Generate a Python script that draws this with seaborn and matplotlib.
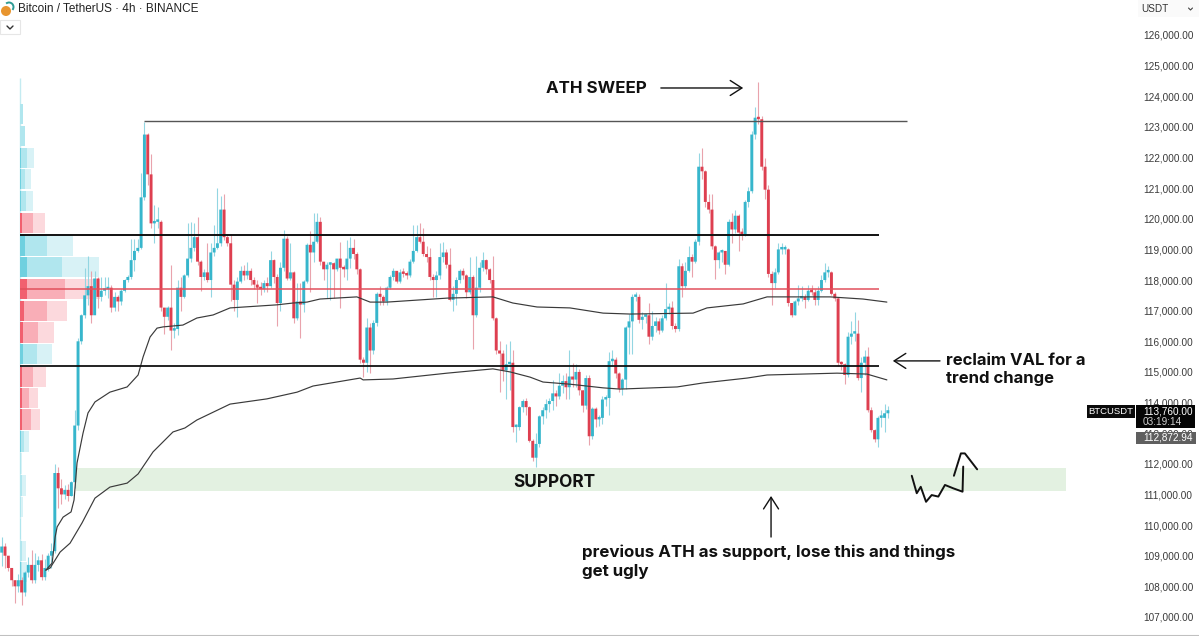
import matplotlib
matplotlib.use("Agg")
import matplotlib.pyplot as plt
from matplotlib.patches import Circle, Rectangle, Arc
from matplotlib.transforms import IdentityTransform
import numpy as np
import pandas as pd
import seaborn as sns

W, H = 1199, 636

# candles, price in thousands of USDT (open is the previous close)
first_open = 109.1
closes = [
    109.3, 109.0, 108.6, 108.2, 108.0, 108.2, 107.8, 108.45, 108.7, 108.2,
    108.7, 108.85, 108.3, 108.6, 109.0, 109.15, 111.7, 111.2, 111.0, 111.15,
    110.95, 111.4, 113.25, 116.0, 116.85, 117.5, 117.8, 116.85, 118.05, 117.45,
    117.65, 117.7, 117.75, 117.1, 117.45, 117.3, 117.65, 118.0, 118.1, 118.65,
    118.95, 119.05, 120.7, 122.75, 121.45, 119.85, 119.9, 119.9, 117.1, 116.8,
    117.1, 116.35, 116.4, 117.75, 117.45, 118.15, 118.7, 119.05, 119.4, 118.6,
    118.1, 118.25, 118.0, 118.9, 119.05, 119.2, 120.3, 119.4, 119.2, 117.85,
    117.35, 117.95, 118.3, 118.15, 118.3, 118.0, 117.85, 117.75, 117.7, 117.9,
    117.8, 118.65, 118.1, 117.25, 118.4, 119.35, 118.05, 118.25, 116.75, 117.3,
    117.2, 117.95, 119.15, 118.9, 119.25, 119.9, 118.6, 118.35, 118.5, 118.55,
    118.35, 118.7, 118.4, 118.35, 118.7, 119.05, 118.85, 118.35, 115.4, 115.3,
    116.45, 115.7, 116.6, 117.55, 117.45, 117.3, 117.75, 118.1, 118.3, 117.95,
    118.25, 118.2, 118.15, 118.6, 118.95, 119.4, 119.25, 118.85, 118.75, 118.1,
    118.0, 118.15, 118.75, 118.9, 118.5, 117.35, 117.55, 118.0, 118.3, 118.15,
    117.6, 118.1, 116.85, 117.75, 118.4, 118.65, 118.35, 118.0, 116.75, 115.7,
    115.6, 115.05, 115.25, 115.3, 113.2, 113.2, 113.85, 114.05, 113.85, 112.75,
    112.2, 112.65, 113.55, 113.75, 113.95, 114.05, 114.3, 114.2, 114.55, 114.7,
    114.5, 114.85, 114.75, 115.0, 114.4, 113.9, 114.8, 112.9, 113.8, 113.45,
    113.5, 114.1, 114.15, 115.35, 115.4, 114.95, 114.45, 114.75, 116.45, 116.65,
    117.45, 117.45, 116.7, 116.8, 116.85, 116.15, 116.5, 116.65, 116.35, 116.75,
    117.05, 117.1, 116.5, 116.4, 118.45, 117.8, 118.3, 118.75, 118.6, 119.25,
    121.7, 121.55, 120.55, 120.3, 119.1, 118.65, 118.9, 118.95, 118.5, 119.9,
    119.65, 120.1, 119.55, 119.5, 120.55, 120.9, 122.75, 123.3, 123.25, 121.7,
    120.95, 118.2, 117.9, 118.25, 119.0, 119.0, 119.0, 117.25, 116.85, 117.3,
    117.4, 117.45, 117.35, 117.65, 117.6, 117.35, 117.65, 118.0, 118.25, 118.25,
    117.55, 117.4, 115.3, 115.25, 114.9, 116.15, 116.25, 116.25, 114.8, 115.3,
    115.5, 113.75, 113.1, 112.8, 113.5, 113.5, 113.65, 113.75,
]
highs = [
    109.6, 109.4, 109.0, 108.6, 108.2, 108.4, 108.3, 108.5, 108.95, 109.2,
    109.1, 109.0, 109.05, 108.9, 109.1, 109.4, 112.0, 111.9, 111.5, 111.3,
    111.35, 111.45, 113.75, 116.1, 116.9, 118.4, 118.8, 118.3, 118.3, 118.1,
    118.1, 118.1, 118.1, 117.85, 117.6, 117.5, 117.7, 118.05, 118.15, 119.35,
    119.35, 119.35, 121.5, 123.15, 122.8, 122.1, 120.45, 120.4, 119.95, 117.0,
    117.15, 118.5, 116.6, 118.0, 118.1, 118.2, 119.85, 119.9, 119.85, 120.05,
    118.65, 118.35, 119.2, 119.2, 119.8, 121.0, 120.75, 120.8, 119.5, 119.5,
    118.0, 118.1, 118.45, 118.5, 118.6, 118.4, 118.1, 118.0, 117.95, 118.0,
    118.1, 118.95, 118.7, 118.2, 118.6, 119.65, 119.45, 119.2, 118.3, 117.9,
    117.9, 118.0, 119.2, 119.6, 120.2, 120.2, 120.05, 118.6, 118.6, 118.6,
    118.6, 118.7, 119.25, 118.5, 119.3, 119.4, 119.35, 118.9, 118.4, 115.5,
    116.75, 116.6, 116.7, 117.6, 117.8, 117.5, 117.8, 118.15, 118.4, 118.3,
    118.35, 118.4, 118.3, 118.7, 119.8, 119.8, 119.85, 119.7, 119.1, 119.05,
    118.2, 118.3, 119.2, 119.25, 119.0, 119.05, 117.8, 118.1, 118.35, 118.4,
    118.2, 118.75, 118.15, 118.8, 118.6, 118.9, 118.7, 118.4, 118.8, 116.8,
    116.0, 115.7, 115.9, 116.0, 115.7, 113.3, 113.9, 114.1, 114.15, 113.9,
    112.8, 113.0, 113.6, 113.85, 114.1, 114.15, 114.75, 114.4, 114.95, 114.9,
    114.95, 115.7, 115.3, 115.25, 115.1, 114.4, 114.9, 114.9, 113.85, 113.85,
    113.6, 114.2, 114.25, 115.65, 115.7, 115.5, 115.0, 114.8, 116.5, 116.9,
    117.55, 117.6, 117.55, 116.95, 116.9, 117.25, 117.0, 116.8, 116.75, 116.85,
    117.9, 117.25, 117.3, 116.6, 118.7, 118.55, 118.6, 119.1, 118.85, 119.35,
    122.15, 122.3, 121.6, 120.8, 120.8, 119.15, 118.95, 119.0, 118.95, 120.0,
    120.2, 120.3, 120.15, 119.7, 120.6, 121.05, 122.85, 123.65, 124.45, 123.35,
    122.0, 121.1, 118.3, 118.4, 119.2, 119.2, 119.15, 119.05, 117.25, 117.35,
    117.85, 117.8, 117.55, 117.85, 117.85, 117.7, 117.8, 118.15, 118.55, 118.45,
    118.3, 117.6, 117.45, 115.35, 115.3, 116.3, 116.65, 116.95, 116.7, 115.5,
    115.7, 115.8, 113.85, 113.15, 113.55, 113.75, 113.95, 113.9,
]
lows = [
    108.65, 108.6, 108.5, 108.0, 107.45, 107.8, 107.4, 107.7, 108.3, 108.1,
    108.1, 108.5, 108.2, 108.2, 108.5, 108.6, 109.1, 110.55, 110.7, 110.85,
    110.8, 110.95, 111.2, 113.1, 115.9, 116.75, 117.2, 116.6, 116.9, 117.1,
    117.3, 117.5, 117.4, 116.95, 117.0, 117.0, 117.2, 117.6, 117.95, 118.05,
    118.3, 118.9, 119.0, 120.6, 121.1, 119.7, 119.2, 119.7, 117.0, 116.25,
    116.7, 115.7, 116.1, 116.2, 117.0, 117.4, 118.1, 118.6, 118.95, 118.5,
    117.65, 118.0, 117.95, 117.45, 118.8, 119.0, 119.1, 119.3, 119.1, 117.3,
    117.0, 116.8, 117.9, 118.0, 118.05, 117.85, 117.7, 117.25, 117.5, 117.6,
    117.6, 117.75, 117.9, 116.5, 117.0, 118.3, 118.0, 118.0, 116.6, 116.7,
    116.1, 116.95, 117.9, 117.6, 118.6, 119.2, 118.5, 118.0, 117.4, 117.35,
    117.4, 118.3, 117.1, 118.1, 118.0, 118.4, 118.7, 118.2, 115.3, 114.85,
    115.0, 114.95, 115.6, 116.5, 117.2, 117.2, 117.2, 117.7, 118.0, 117.9,
    117.9, 118.1, 118.05, 118.1, 118.55, 118.9, 119.2, 118.8, 118.6, 118.0,
    117.45, 117.45, 118.05, 118.6, 118.4, 117.3, 117.0, 117.2, 117.9, 118.05,
    117.4, 117.55, 115.75, 116.8, 117.6, 118.3, 118.2, 117.9, 116.7, 115.6,
    114.35, 114.7, 114.1, 114.4, 113.05, 112.7, 113.1, 113.7, 113.6, 112.7,
    112.1, 111.9, 112.55, 113.3, 113.5, 113.7, 113.75, 113.9, 114.1, 114.3,
    114.1, 114.1, 114.5, 114.5, 114.25, 113.7, 113.8, 112.6, 112.8, 113.2,
    113.25, 113.3, 113.9, 113.6, 115.2, 114.8, 114.35, 114.25, 114.45, 115.6,
    115.6, 117.3, 116.6, 116.4, 116.6, 115.9, 116.05, 116.3, 116.25, 116.3,
    116.7, 116.9, 116.4, 116.3, 116.35, 117.45, 117.75, 118.25, 118.1, 118.55,
    119.15, 121.3, 120.4, 120.2, 119.0, 118.05, 118.4, 118.6, 118.2, 118.45,
    119.2, 119.55, 118.95, 119.3, 119.45, 120.4, 120.85, 122.6, 123.1, 121.6,
    120.65, 118.1, 117.2, 117.75, 118.2, 118.85, 118.85, 117.15, 116.8, 116.85,
    117.2, 117.3, 117.1, 117.3, 117.5, 117.2, 117.2, 117.6, 117.95, 118.1,
    117.5, 117.3, 115.2, 115.05, 114.6, 114.85, 115.9, 116.0, 114.75, 114.35,
    114.9, 113.7, 113.05, 112.7, 112.55, 113.2, 113.05, 113.5,
]

# anchored vwap curves (candle index, price)
upper_idx = [13.3, 15.2, 16.1, 16.7, 18.5, 20.9, 21.8, 22.7, 24.5, 26, 28.1, 32.6, 37.8, 41.1, 42.6,
             44.7, 46.8, 48.6, 54.6, 58.8, 63.7, 68.8, 82.9, 87.8, 92, 95.9, 107, 111, 116.1, 134.2,
             148, 154, 161.3, 171.2, 181.2, 189.3, 208.3, 212.5, 223.4, 230.6, 249.6, 259.5, 266.7]
upper_val = [108.53, 108.76, 109.61, 109.94, 110.26, 110.43, 110.82, 112.03, 113.0, 113.66, 114.02,
             114.34, 114.51, 114.9, 115.49, 116.14, 116.43, 116.47, 116.53, 116.76, 116.86, 117.09,
             117.19, 117.25, 117.28, 117.38, 117.45, 117.28, 117.28, 117.41, 117.45, 117.25, 117.12,
             117.09, 116.92, 116.89, 116.92, 117.09, 117.22, 117.45, 117.45, 117.38, 117.28]
lower_idx = [13.3, 14.6, 17.6, 20.6, 24.2, 28.1, 32.6, 37.8, 41.1, 45.6, 51.6, 55.2, 58.8, 68.8, 79.9,
             89, 93.8, 108, 108.9, 117.9, 134.2, 148, 153.2, 159.2, 163.1, 171.2, 181.2, 186.3,
             203.5, 211.3, 224.6, 230.6, 251.7, 260.7, 266.7]
lower_val = [108.53, 108.6, 109.12, 109.41, 110.07, 110.88, 111.24, 111.37, 111.67, 112.39, 113.04,
             113.17, 113.43, 113.95, 114.12, 114.34, 114.54, 114.8, 114.74, 114.77, 114.96, 115.1,
             115.0, 114.83, 114.67, 114.6, 114.48, 114.44, 114.51, 114.64, 114.8, 114.9, 114.96,
             114.93, 114.74]

# volume profile rows
vp_price = [123.42, 122.70, 121.98, 121.30, 120.58, 119.85, 119.13, 118.43, 117.72, 116.99, 116.29,
            115.59, 114.83, 114.15, 113.45, 112.73, 112.01, 111.29, 110.59, 109.87, 109.15, 108.47]
vp_total = [3, 5, 14, 11, 13, 25, 53, 79, 80, 47, 34, 32, 26, 18, 20, 9, 2, 6, 3, 1, 6, 7]
vp_inner = [3, 5, 7, 5, 6, 13, 27, 42, 45, 27, 18, 17, 13, 9, 11, 4, 1, 2, 1, 1, 2, 2]
vp_side = ['b', 'b', 'b', 'b', 'b', 's', 'b', 'b', 's', 's', 's', 'b', 's', 's', 's', 'b', 'b', 'b',
           'b', 'b', 'b', 'b']

# levels
ath_level = 123.19
range_high = 119.47
poc_level = 117.71
val_level = 115.19
support_low, support_high = 111.11, 111.86

tick_values = np.arange(107, 127)
tick_labels = [f"{v * 1000:,.2f}" for v in tick_values]

# hand drawn scribble
scribble1_x = [274.2, 275.7, 276.9, 278.5, 280.2, 282.2, 284.2, 286.7, 289.5, 289.7]
scribble1_y = [111.61, 111.04, 111.25, 110.76, 110.98, 110.93, 111.31, 111.2, 111.09, 111.91]
scribble2_x = [286.9, 289.0, 290.2, 293.9]
scribble2_y = [111.61, 112.34, 112.34, 111.82]

TEAL, RED = "#37b6cc", "#de3f50"
TEAL_W, RED_W = "#93d6e2", "#e9a3ac"
UI_FONT = ['Liberation Sans', 'DejaVu Sans']

sns.set_theme(style="white")
plt.rcParams['font.family'] = ['Inter', 'DejaVu Sans']

fig = plt.figure(figsize=(W / 100, H / 100), dpi=100)
ax = fig.add_axes([0, 0, 1, 1])
ax.set_xlim((0 - 1.7) / 3.319, (W - 1.7) / 3.319)
ax.set_ylim(126 - (H - 35) / 30.63, 126 + 35 / 30.63)

# support zone
ax.fill_between([22.4, 320.7], support_low, support_high, color="#e3f1e1", lw=0, zorder=1)

# volume profile
vp_scale = 1 / 3.319
vp_left = 5.5
for p, tot, inn, s in zip(vp_price, vp_total, vp_inner, vp_side):
    pale, mid, dark = ("#d8f2f6", "#b0e6ee", "#6fd0df") if s == 'b' else ("#fcd9dd", "#f9aeb7", "#f1606f")
    ax.barh(p, tot * vp_scale, height=0.66, left=vp_left, color=pale, lw=0, zorder=1.2)
    ax.barh(p, inn * vp_scale, height=0.66, left=vp_left, color=mid, lw=0, zorder=1.3)
    ax.barh(p, min(inn, tot * 0.09) * vp_scale, height=0.66, left=vp_left, color=dark, lw=0, zorder=1.4)
ax.vlines(vp_left, 108.1, 124.6, color="#c4ebf1", lw=1, zorder=1.1)

# candles
closes_a = np.array(closes)
opens_a = np.r_[first_open, closes_a[:-1]]
candles = pd.DataFrame({"i": np.arange(len(closes)), "open": opens_a, "close": closes_a,
                        "high": highs, "low": lows})
candles["up"] = candles["close"] >= candles["open"]
ax.vlines(candles["i"], candles["low"], candles["high"],
          colors=np.where(candles["up"], TEAL_W, RED_W), lw=0.8, zorder=2)
ax.bar(candles["i"], (candles["close"] - candles["open"]).abs().clip(lower=0.08),
       bottom=candles[["open", "close"]].min(axis=1), width=0.88,
       color=np.where(candles["up"], TEAL, RED), lw=0, zorder=2.2, snap=False)

# vwap lines
vw_up = pd.DataFrame({"i": upper_idx, "p": upper_val})
vw_lo = pd.DataFrame({"i": lower_idx, "p": lower_val})
sns.lineplot(data=vw_up, x="i", y="p", color="#3a3a3a", lw=0.85, estimator=None, sort=False, ax=ax, zorder=3)
sns.lineplot(data=vw_lo, x="i", y="p", color="#3a3a3a", lw=0.85, estimator=None, sort=False, ax=ax, zorder=3)

# horizontal levels
ax.hlines(ath_level, 42.9, 272.8, color="#555555", lw=1, zorder=3)
ax.hlines(range_high, 5.5, 264.3, color="#111111", lw=1.4, zorder=3)
ax.hlines(poc_level, 5.5, 264.3, color="#e2505c", lw=1.1, zorder=3)
ax.hlines(val_level, 5.5, 264.3, color="#111111", lw=1.3, zorder=3)

# annotations
note = dict(color="#111111", fontweight="bold", va="center", zorder=5)
ax.text(164, 124.24, "ATH SWEEP", fontsize=12.2, **note)
ax.text(166.4, 111.38, "SUPPORT", fontsize=12.4, ha="center", **note)
ax.text(284.5, 115.36, "reclaim VAL for a", fontsize=12.0, **note)
ax.text(284.5, 114.8, "trend change", fontsize=12.0, **note)
ax.text(174.8, 109.1, "previous ATH as support, lose this and things", fontsize=12.2, **note)
ax.text(174.8, 108.5, "get ugly", fontsize=12.2, **note)

arrow = dict(arrowstyle="->,head_length=0.7,head_width=0.45", color="#111111", lw=1, shrinkA=0, shrinkB=0)
ax.annotate("", xy=(223.4, 124.27), xytext=(198.6, 124.27), arrowprops=arrow, zorder=5)
ax.annotate("", xy=(268.5, 115.36), xytext=(282.7, 115.36), arrowprops=arrow, zorder=5)
ax.annotate("", xy=(231.8, 110.95), xytext=(231.8, 109.61), arrowprops=arrow, zorder=5)

ax.plot(scribble1_x, scribble1_y, color="#111111", lw=1.4, solid_joinstyle="round", zorder=5)
ax.plot(scribble2_x, scribble2_y, color="#111111", lw=1.4, solid_joinstyle="round", zorder=5)

# price axis, drawn inside the frame
ax.yaxis.tick_right()
ax.set_yticks(tick_values)
ax.set_yticklabels(tick_labels, family=UI_FONT)
ax.tick_params(axis="y", length=0, pad=-40.3, labelsize=7.2, labelcolor="#3a3a3a")
ax.set_xticks([])
ax.set_xlabel("")
ax.set_ylabel("")
for side in ["top", "left", "right"]:
    ax.spines[side].set_visible(False)
ax.spines["bottom"].set_color("#c0c0c0")
ax.spines["bottom"].set_linewidth(1.5)

# screen chrome, in pixels from the top left
disp = IdentityTransform()
def box(x0, y0, x1, y1, fc, ec="none", lw=0):
    fig.add_artist(Rectangle((x0, H - y1), x1 - x0, y1 - y0, fc=fc, ec=ec, lw=lw, transform=disp, zorder=6))
def label(x, y, s, size=7.2, color="white", ha="left"):
    fig.text(x, H - y, s, fontsize=size, color=color, ha=ha, va="center", family=UI_FONT,
             transform=disp, zorder=7)

label(18.5, 8.5, "Bitcoin / TetherUS · 4h · BINANCE", size=8.45, color="#222222")
fig.add_artist(Circle((6, H - 11), 5, fc="#e8952f", ec="none", transform=disp, zorder=6))
fig.add_artist(Arc((9, H - 7), 9, 9, theta1=-40, theta2=130, ec="#2f9c95", lw=1.4, transform=disp, zorder=6))
box(0, 20, 20, 34, "white", "#e6e6e6", 0.8)
fig.add_artist(plt.Line2D([7, 10, 13], [H - 26, H - 29, H - 26], color="#333333", lw=1, transform=disp, zorder=7))

box(1138, 0, 1199, 17, "#fafafa")
label(1141, 9, "USDT", size=7.2, color="#333333")
fig.add_artist(plt.Line2D([1188.5, 1190.5, 1192.5], [H - 8, H - 10, H - 8], color="#444444", lw=0.8,
                          transform=disp, zorder=7))

box(1087, 405, 1135, 418, "#0a0a0a")
label(1111, 411.5, "BTCUSDT", size=6.8, ha="center")
box(1136, 405, 1195, 428, "#050505")
label(1143, 411, "113,760.00")
label(1143, 422, "03:19:14", color="#d0d0d0")
box(1136, 432, 1196, 444, "#5f5f5f")
label(1143, 438, "112,872.94")

fig.savefig("out.png", dpi=100)
